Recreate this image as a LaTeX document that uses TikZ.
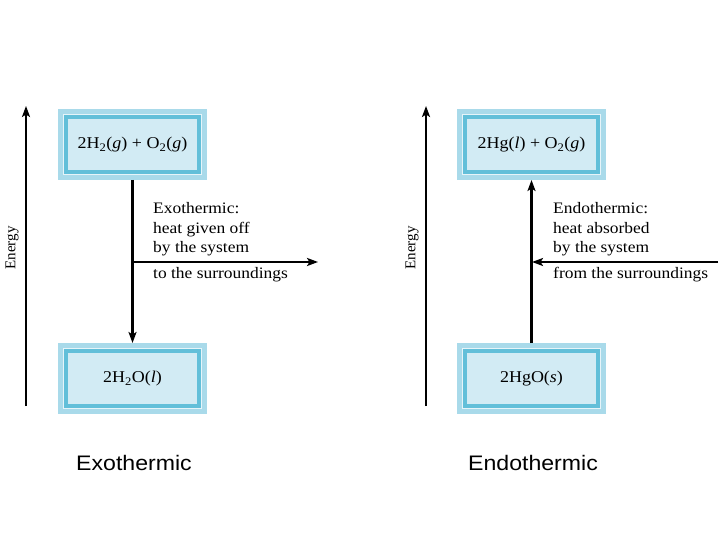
\documentclass[tikz,border=0pt]{standalone}
\usepackage{fontspec}
\setmainfont{Liberation Serif}
\newfontfamily\serifx[FakeStretch=1.09]{Liberation Serif}
\newfontfamily\sansx[FakeStretch=1.1]{Liberation Sans}
\usetikzlibrary{arrows.meta}
\definecolor{boxlight}{HTML}{A9DAEA}
\definecolor{boxdark}{HTML}{62BFD9}
\definecolor{boxinner}{HTML}{D2EBF4}
\definecolor{boxwhite}{HTML}{E6F4F9}
\tikzset{
  ebox/.style={rectangle, minimum width=133.5bp, minimum height=55.5bp, inner sep=0pt,
    outer sep=7.75bp, fill=boxinner, draw=boxdark, line width=4.3bp,
    preaction={draw=boxlight, line width=15.5bp},
    preaction={draw=boxwhite, line width=6.2bp},
    font=\serifx\fontsize{16.5bp}{19bp}\selectfont},
  arr/.style={line width=2.2bp, -{Stealth[length=11bp,width=8bp,inset=2.5bp]}},
  axis/.style={line width=2.3bp, -{Stealth[length=11bp,width=8bp,inset=2.5bp]}},
  txt/.style={anchor=base west, inner sep=0pt, font=\serifx\fontsize{16bp}{19bp}\selectfont},
  lab/.style={anchor=base, inner sep=0pt, font=\sansx\fontsize{21bp}{24bp}\selectfont},
  ylab/.style={rotate=90, inner sep=0pt, font=\fontsize{15bp}{18bp}\selectfont}
}
\begin{document}
\begin{tikzpicture}[x=1bp,y=-1bp]
\useasboundingbox (0,0) rectangle (720,540);
% left panel
\coordinate (ax1b) at (26,406);
\coordinate (ax1t) at (26,106);
\draw[axis] (ax1b) -- (ax1t);
\node[ylab] (en1) at (12,248) {Energy};
\node[ebox] (r1) at (132.5,144.5) {2H\textsubscript{2}(\textit{g}) + O\textsubscript{2}(\textit{g})};
\node[ebox] (p1) at (132.5,378.5) {2H\textsubscript{2}O(\textit{l})};
\draw[arr] (r1.south) -- (p1.north);
\coordinate (h1s) at (132,262);
\coordinate (h1e) at (318,262);
\draw[arr] (h1s) -- (h1e);
\node[txt] (t1a) at (153,214) {Exothermic:};
\node[txt] (t1b) at (153,233.5) {heat given off};
\node[txt] (t1c) at (153,253) {by the system};
\node[txt] (t1d) at (153,279) {to the surroundings};
\node[lab] (l1) at (134,470) {Exothermic};
% right panel
\coordinate (ax2b) at (426,406);
\coordinate (ax2t) at (426,106);
\draw[axis] (ax2b) -- (ax2t);
\node[ylab] (en2) at (412,248) {Energy};
\node[ebox] (r2) at (531.5,144.5) {2Hg(\textit{l}) + O\textsubscript{2}(\textit{g})};
\node[ebox] (p2) at (531.5,378.5) {2HgO(\textit{s})};
\draw[arr] (p2.north) -- (r2.south);
\coordinate (h2s) at (718,262);
\coordinate (h2e) at (532,262);
\draw[arr] (h2s) -- (h2e);
\node[txt] (t2a) at (553,214) {Endothermic:};
\node[txt] (t2b) at (553,233.5) {heat absorbed};
\node[txt] (t2c) at (553,253) {by the system};
\node[txt] (t2d) at (553,279) {from the surroundings};
\node[lab] (l2) at (533,470) {Endothermic};
\end{tikzpicture}
\end{document}
